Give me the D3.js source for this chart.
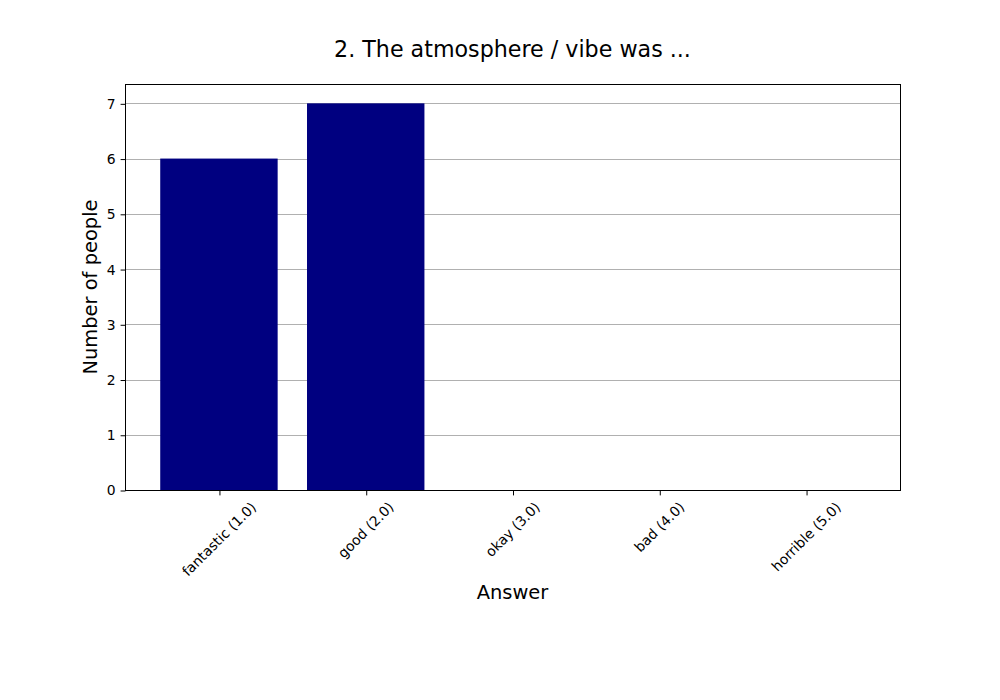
<!DOCTYPE html>
<html><head><meta charset="utf-8">
<script src="https://cdn.jsdelivr.net/npm/d3@7"></script>
<style>body{margin:0;background:#fff}svg{display:block}text{font-family:"DejaVu Sans",sans-serif;fill:#000}</style>
</head><body>
<svg id="c" width="1000" height="700"></svg>
<script>
const categories = ["fantastic (1.0)", "good (2.0)", "okay (3.0)", "bad (4.0)", "horrible (5.0)"];
const counts = [6, 7, 0, 0, 0];
const yTicks = [0, 1, 2, 3, 4, 5, 6, 7];
const title = "2. The atmosphere / vibe was ...";
const xLabel = "Answer";
const yLabel = "Number of people";

const svg = d3.select("#c");
const L = 125, R = 900, T = 84, B = 490;
const x = d3.scaleLinear().domain([-0.64, categories.length - 1 + 0.64]).range([L, R]);
const y = d3.scaleLinear().domain([0, d3.max(counts) * 1.05]).range([B, T]);
const bw = x(0.8) - x(0);

svg.append("rect").attr("x", 0).attr("y", 0).attr("width", 1000).attr("height", 700).attr("fill", "#fff");

// grid
svg.append("g").selectAll("line").data(yTicks).join("line")
  .attr("x1", L).attr("x2", R).attr("y1", d => Math.round(y(d)) + 0.5).attr("y2", d => Math.round(y(d)) + 0.5)
  .attr("stroke", "#b0b0b0").attr("stroke-width", 1);

// bars
svg.append("g").selectAll("rect").data(counts).join("rect")
  .attr("x", (d, i) => x(i) - bw / 2).attr("width", bw)
  .attr("y", d => y(d)).attr("height", d => B - y(d))
  .attr("fill", "#000080");

// axes
const yAxis = d3.axisLeft(y).tickValues(yTicks).tickSize(4.9).tickPadding(4.9).tickFormat(d3.format("d"));
const gy = svg.append("g").attr("transform", `translate(${L + 0.5},0.5)`).call(yAxis);
gy.select(".domain").remove();
gy.selectAll("text").style("font-size", "13.9px").style("font-family", '"DejaVu Sans",sans-serif');
gy.selectAll("line").attr("stroke", "#000").attr("stroke-width", 1);

const xAxis = d3.axisBottom(x).tickValues(d3.range(categories.length)).tickSize(4.9).tickFormat(() => "");
const gx = svg.append("g").attr("transform", `translate(0.5,${B + 0.5})`).call(xAxis);
gx.select(".domain").remove();
gx.selectAll("line").attr("stroke", "#000").attr("stroke-width", 1);

// rotated tick labels
const fs = 13.9;
const s = Math.SQRT1_2;
categories.forEach((c, i) => {
  const t = svg.append("text").text(c).style("font-size", fs + "px")
    .attr("text-anchor", "middle").attr("dominant-baseline", "central");
  const w = t.node().getComputedTextLength();
  const h = (w + fs * 1.16) * s;
  const cx = x(i), cy = B + 4.9 + 4.9 + h / 2 - 1;
  t.attr("x", cx).attr("y", cy).attr("transform", `rotate(-45,${cx},${cy})`);
});

// frame
svg.append("rect").attr("x", L + 0.5).attr("y", T + 0.5).attr("width", R - L).attr("height", B - T)
  .attr("fill", "none").attr("stroke", "#000").attr("stroke-width", 1);

// labels
svg.append("text").attr("x", (L + R) / 2).attr("y", 57).attr("text-anchor", "middle")
  .style("font-size", "22.2px").text(title);
svg.append("text").attr("x", (L + R) / 2).attr("y", 599).attr("text-anchor", "middle")
  .style("font-size", "19.44px").text(xLabel);
svg.append("text").attr("transform", `translate(97,${(T + B) / 2}) rotate(-90)`).attr("text-anchor", "middle")
  .style("font-size", "19.44px").text(yLabel);
</script>
</body></html>
